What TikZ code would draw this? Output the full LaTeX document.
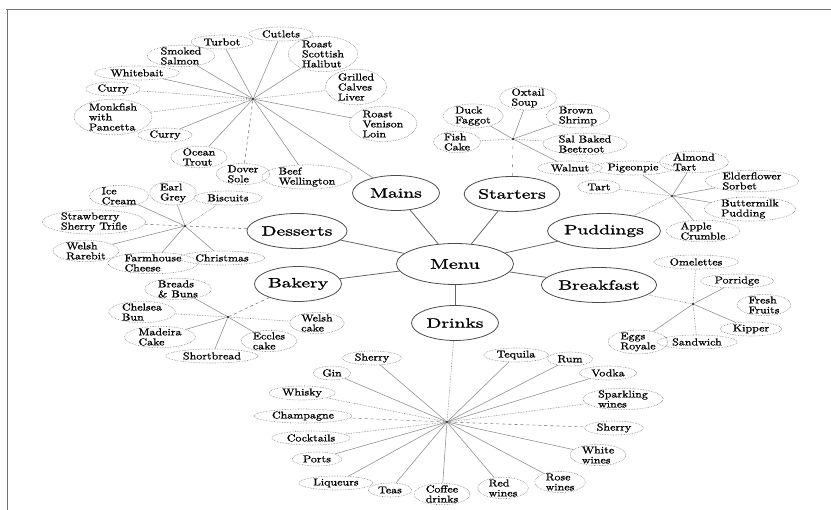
\documentclass[tikz,border=0pt]{standalone}
\usepackage{fontspec}
\usetikzlibrary{shapes.geometric}
\newfontfamily\leaffont[FakeStretch=1.2, FakeBold=0.9]{lmroman10-regular.otf}
\newfontfamily\catfont[FakeStretch=1.45, FakeBold=1.2]{lmroman10-regular.otf}

\begin{document}
\begin{tikzpicture}[x=1pt, y=-1pt,
		cat/.style={ellipse, draw=black!70, line width=0.8pt, minimum width=87pt, minimum height=35pt, inner sep=0pt, font=\catfont\fontsize{13.5}{15}\selectfont},
		leaf/.style={ellipse, draw=black!50, densely dotted, line width=0.6pt, inner xsep=3.5pt, inner ysep=-1pt, minimum height=14pt, align=left, font=\leaffont\fontsize{10}{10}\selectfont},
		hub/.style={circle, fill=black!80, inner sep=0.9pt},
		stem/.style={black!60, line width=0.8pt},
		twig/.style={black!45, line width=0.55pt},
		twigdot/.style={black!50, line width=0.6pt, densely dotted},
		twigdash/.style={black!50, line width=0.6pt, dashed}]
		\useasboundingbox (0,0) rectangle (831,510);
		\draw[black!55, line width=1pt] (6,9.5) -- (831,9.5);
		\draw[black!55, line width=1pt] (7,9.5) -- (7,510);

		\node[cat, minimum width=117pt, minimum height=41pt, font=\catfont\fontsize{14}{16}\selectfont] (menu) at (455,264) {Menu};
		\node[cat] (mains) at (396,193) {Mains};
		\node[cat] (starters) at (512,194) {Starters};
		\node[cat] (desserts) at (297,231) {Desserts};
		\node[cat] (puddings) at (604,231) {Puddings};
		\node[cat] (bakery) at (298,284) {Bakery};
		\node[cat] (breakfast) at (599,285) {Breakfast};
		\node[cat] (drinks) at (455,323) {Drinks};

		\node[hub] (mh) at (253,99) {};
		\node[hub] (sh) at (513,139) {};
		\node[hub] (ph) at (672,196) {};
		\node[hub] (bh) at (693,304) {};
		\node[hub] (dh) at (447,422) {};
		\node[hub] (deh) at (185,226) {};
		\node[hub] (bah) at (228,317) {};

		\node[leaf] (turbot) at (222,42) {Turbot};
		\node[leaf] (cutlets) at (281,34) {Cutlets};
		\node[leaf] (salmon) at (181,56) {Smoked\\Salmon};
		\node[leaf] (halibut) at (323,54) {Roast\\Scottish\\Halibut};
		\node[leaf] (whitebait) at (137,73) {Whitebait};
		\node[leaf] (currya) at (113,89) {Curry};
		\node[leaf] (liver) at (356,87) {Grilled\\Calves\\Liver};
		\node[leaf] (monkfish) at (113,117) {Monkfish\\with\\Pancetta};
		\node[leaf] (curryb) at (165,135) {Curry};
		\node[leaf] (venison) at (383,124) {Roast\\Venison\\Loin};
		\node[leaf] (trout) at (199,157) {Ocean\\Trout};
		\node[leaf] (sole) at (243,174) {Dover\\Sole};
		\node[leaf] (wellington) at (307,177) {Beef\\Wellington};

		\node[leaf] (oxtail) at (528,98) {Oxtail\\Soup};
		\node[leaf] (faggot) at (473,116) {Duck\\Faggot};
		\node[leaf] (shrimp) at (578,116) {Brown\\Shrimp};
		\node[leaf] (fishcake) at (457,142) {Fish\\Cake};
		\node[leaf] (beetroot) at (585,144) {Sal Baked\\Beetroot};
		\node[leaf] (walnut) at (570,168) {Walnut};

		\node[leaf] (pigeonpie) at (633,168) {Pigeonpie};
		\node[leaf] (almond) at (694,162) {Almond\\Tart};
		\node[leaf] (tart) at (599,187) {Tart};
		\node[leaf] (sorbet) at (752,181) {Elderflower\\Sorbet};
		\node[leaf] (buttermilk) at (750,209) {Buttermilk\\Pudding};
		\node[leaf] (crumble) at (703,231) {Apple\\Crumble};

		\node[leaf] (omelettes) at (696,262) {Omelettes};
		\node[leaf] (porridge) at (737,281) {Porridge};
		\node[leaf] (fruits) at (764,305) {Fresh\\Fruits};
		\node[leaf] (kipper) at (751,329) {Kipper};
		\node[leaf] (sandwich) at (697,342) {Sandwich};
		\node[leaf] (eggs) at (638,342) {Eggs\\Royale};

		\node[leaf] (sherrya) at (372,358) {Sherry};
		\node[leaf] (gin) at (332,373) {Gin};
		\node[leaf] (whisky) at (302,393) {Whisky};
		\node[leaf] (champagne) at (303,416) {Champagne};
		\node[leaf] (cocktails) at (311,438) {Cocktails};
		\node[leaf] (ports) at (317,459) {Ports};
		\node[leaf] (liqueurs) at (336,483) {Liqueurs};
		\node[leaf] (teas) at (390,490) {Teas};
		\node[leaf] (coffee) at (442,494) {Coffee\\drinks};
		\node[leaf] (redwine) at (503,488) {Red\\wines};
		\node[leaf] (rosewine) at (560,482) {Rose\\wines};
		\node[leaf] (whitewine) at (598,455) {White\\wines};
		\node[leaf] (sherryb) at (614,428) {Sherry};
		\node[leaf] (sparkling) at (623,399) {Sparkling\\wines};
		\node[leaf] (vodka) at (608,373) {Vodka};
		\node[leaf] (rum) at (570,359) {Rum};
		\node[leaf] (tequila) at (516,355) {Tequila};

		\node[leaf] (icecream) at (119,196) {Ice\\Cream};
		\node[leaf] (earlgrey) at (173,193) {Earl\\Grey};
		\node[leaf] (biscuits) at (228,198) {Biscuits};
		\node[leaf] (trifle) at (94,222) {Strawberry\\Sherry Trifle};
		\node[leaf] (rarebit) at (86,251) {Welsh\\Rarebit};
		\node[leaf] (cheese) at (153,263) {Farmhouse\\Cheese};
		\node[leaf] (christmas) at (222,258) {Christmas};

		\node[leaf] (breads) at (178,289) {Breads\\\& Buns};
		\node[leaf] (chelsea) at (142,312) {Chelsea\\Bun};
		\node[leaf] (madeira) at (160,337) {Madeira\\Cake};
		\node[leaf] (shortbread) at (212,356) {Shortbread};
		\node[leaf] (eccles) at (269,341) {Eccles\\cake};
		\node[leaf] (welshcake) at (317,323) {Welsh\\cake};

		\draw[stem] (menu) -- (mains);
		\draw[stem] (menu) -- (starters);
		\draw[stem] (menu) -- (desserts);
		\draw[stem] (menu) -- (puddings);
		\draw[stem] (menu) -- (bakery);
		\draw[stem] (menu) -- (breakfast);
		\draw[stem] (menu) -- (drinks);

		\draw[twig] (mains) -- (mh);
		\draw[twig] (mh) -- (turbot);
		\draw[twig] (mh) -- (cutlets);
		\draw[twig] (mh) -- (salmon);
		\draw[twig] (mh) -- (halibut);
		\draw[twig] (mh) -- (whitebait);
		\draw[twigdot] (mh) -- (currya);
		\draw[twigdot] (mh) -- (liver);
		\draw[twigdot] (mh) -- (monkfish);
		\draw[twig] (mh) -- (curryb);
		\draw[twig] (mh) -- (venison);
		\draw[twig] (mh) -- (trout);
		\draw[twigdash] (mh) -- (sole);
		\draw[twig] (mh) -- (wellington);

		\draw[twig, loosely dashed] (starters) -- (sh);
		\draw[twig] (sh) -- (oxtail);
		\draw[twig] (sh) -- (faggot);
		\draw[twig] (sh) -- (shrimp);
		\draw[twigdot] (sh) -- (fishcake);
		\draw[twigdot] (sh) -- (beetroot);
		\draw[twig] (sh) -- (walnut);

		\draw[twigdot] (puddings) -- (ph);
		\draw[twig] (ph) -- (pigeonpie);
		\draw[twig] (ph) -- (almond);
		\draw[twigdot] (ph) -- (tart);
		\draw[twig] (ph) -- (sorbet);
		\draw[twig] (ph) -- (buttermilk);
		\draw[twig] (ph) -- (crumble);

		\draw[twigdot] (breakfast) -- (bh);
		\draw[twigdot] (bh) -- (omelettes);
		\draw[twig] (bh) -- (porridge);
		\draw[twig] (bh) -- (kipper);
		\draw[twigdot] (bh) -- (sandwich);
		\draw[twig] (bh) -- (eggs);

		\draw[twigdot] (drinks) -- (dh);
		\draw[twig] (dh) -- (sherrya);
		\draw[twig] (dh) -- (gin);
		\draw[twigdot] (dh) -- (whisky);
		\draw[twigdash] (dh) -- (champagne);
		\draw[twigdot] (dh) -- (cocktails);
		\draw[twig] (dh) -- (ports);
		\draw[twig] (dh) -- (liqueurs);
		\draw[twig] (dh) -- (teas);
		\draw[twig] (dh) -- (coffee);
		\draw[twig] (dh) -- (redwine);
		\draw[twig] (dh) -- (rosewine);
		\draw[twig] (dh) -- (whitewine);
		\draw[twigdash] (dh) -- (sherryb);
		\draw[twigdot] (dh) -- (sparkling);
		\draw[twig] (dh) -- (vodka);
		\draw[twig] (dh) -- (rum);
		\draw[twig] (dh) -- (tequila);

		\draw[twigdash] (desserts) -- (deh);
		\draw[twig] (deh) -- (icecream);
		\draw[twig] (deh) -- (earlgrey);
		\draw[twigdot] (deh) -- (biscuits);
		\draw[twigdash] (deh) -- (trifle);
		\draw[twig] (deh) -- (rarebit);
		\draw[twig] (deh) -- (cheese);
		\draw[twig] (deh) -- (christmas);

		\draw[twigdash] (bakery) -- (bah);
		\draw[twig] (bah) -- (breads);
		\draw[twigdot] (bah) -- (chelsea);
		\draw[twig] (bah) -- (madeira);
		\draw[twig] (bah) -- (shortbread);
		\draw[twig] (bah) -- (eccles);
		\draw[twigdot] (bah) -- (welshcake);
	\end{tikzpicture}
\end{document}
